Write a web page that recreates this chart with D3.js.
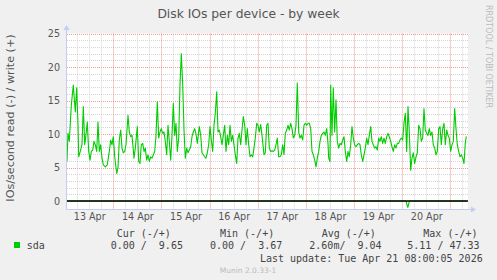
<!DOCTYPE html>
<html><head><meta charset="utf-8">
<script src="https://cdn.jsdelivr.net/npm/d3@7"></script>
<style>
html,body{margin:0;padding:0;background:#f0f0f0;}
svg{display:block;}
text{font-family:"DejaVu Sans",sans-serif;}
.mono{font-family:"DejaVu Sans Mono",monospace;white-space:pre;}
</style>
</head><body>
<svg id="c" width="497" height="280"></svg>
<script>
// ---- data ----
const title = "Disk IOs per device - by week";
const yAxisLabel = "IOs/second read (-) / write (+)";
const yTickValues = [0, 5, 10, 15, 20, 25];
const xTickLabels = ["13 Apr","14 Apr","15 Apr","16 Apr","17 Apr","18 Apr","19 Apr","20 Apr"];
const seriesName = "sda";
const legendHeaders = ["Cur (-/+)", "Min (-/+)", "Avg (-/+)", "Max (-/+)"];
const legendValues = ["0.00 /  9.65", "0.00 /  3.67", "2.60m/  9.04", "5.11 / 47.33"];
const lastUpdate = "Last update: Tue Apr 21 08:00:05 2026";
const footer = "Munin 2.0.33-1";
const watermark = "RRDTOOL / TOBI OETIKER";
// time: hours since 13 Apr 2026 00:00 (UTC)
const viewHours = [0.92, 200.82];
const writeHours = [0.9,1.42,2.07,3.07,4.06,5.06,5.76,6.41,6.75,7.55,8.40,9.05,9.75,10.39,11.04,11.74,12.39,13.04,13.73,14.38,15.03,15.73,16.38,17.02,17.72,18.37,19.02,20.01,21.01,22.01,22.71,23.36,24.00,24.70,25.70,26.35,26.99,27.69,28.34,28.99,29.69,30.33,31.33,31.98,32.68,33.33,34.32,34.97,35.97,36.67,37.31,37.96,38.66,39.31,39.95,40.65,41.30,41.95,42.65,43.30,43.94,44.64,45.29,45.94,46.63,47.28,47.93,48.63,49.28,49.92,50.62,51.27,51.92,52.62,53.27,53.91,54.61,55.26,55.91,56.61,57.25,57.90,58.60,59.25,59.89,60.59,61.24,61.89,62.59,63.24,63.88,64.58,65.23,65.88,66.88,67.57,68.22,68.87,69.57,70.21,70.86,71.56,72.21,72.86,73.55,74.20,74.85,75.55,76.20,76.84,77.54,78.19,78.84,79.54,80.18,80.83,81.53,82.18,82.83,83.52,84.17,84.82,85.52,86.17,86.81,87.51,88.16,88.81,89.51,90.15,90.80,91.50,92.15,92.80,93.49,94.14,94.79,95.49,96.14,96.78,97.48,98.13,98.78,99.12,99.77,100.47,101.12,101.77,102.46,103.11,103.76,104.46,105.11,105.75,106.45,107.10,107.75,108.45,109.10,109.74,110.44,111.09,111.74,112.44,113.09,113.73,114.43,115.08,115.73,116.43,117.08,117.72,118.42,119.07,119.72,120.42,121.06,121.71,122.41,123.06,123.71,124.40,125.05,125.70,126.40,127.05,127.69,128.39,129.04,129.69,130.38,131.03,131.38,132.02,132.37,133.02,133.67,134.37,135.02,135.66,136.36,137.01,137.66,138.36,139.01,139.65,140.35,141.00,141.65,142.34,142.99,143.64,144.34,144.99,145.64,146.33,146.98,147.63,148.33,148.97,149.62,150.32,150.97,151.62,152.31,152.96,153.61,154.31,154.96,155.60,156.30,156.95,157.60,158.29,158.94,159.59,160.29,160.94,161.58,162.28,162.93,163.58,164.27,164.92,165.57,166.27,166.92,167.57,168.26,168.91,169.56,170.26,170.91,171.55,172.25,172.90,173.55,174.25,174.90,175.54,176.24,176.89,177.54,178.23,178.88,179.53,180.23,180.88,181.52,182.22,182.87,183.52,184.22,184.86,185.51,186.21,186.86,187.51,188.21,188.85,189.50,190.20,190.85,191.49,192.19,192.84,193.49,194.19,194.83,195.48,196.18,196.83,197.48,198.17,198.82,199.47,199.97];
const writeValues = [5.9,10.1,8.9,14.3,17.3,13.3,16.9,11.3,6.6,7.4,8.4,14.1,8.4,9.9,11.8,7.4,6.1,7.4,7.6,8.9,8.4,7.4,11.8,7.4,8.4,6.4,5.4,5.1,5.4,7.4,9.1,8.4,9.6,6.6,4.1,5.0,9.1,10.6,7.9,7.2,7.4,8.4,12.8,10.3,9.6,9.8,6.4,7.9,11.1,5.9,5.6,8.4,8.6,7.4,7.9,6.1,6.9,5.9,6.6,6.4,6.9,7.4,9.8,14.8,9.4,10.3,10.8,10.1,10.3,8.9,6.9,11.3,8.9,6.1,9.8,14.6,9.8,11.6,7.4,9.4,17.3,22.0,17.3,10.6,6.4,7.9,7.2,7.6,8.1,9.6,10.3,10.8,10.0,8.6,11.1,9.8,7.2,6.9,6.6,6.4,7.2,8.4,11.1,9.1,7.4,11.3,13.1,16.3,10.3,10.6,9.6,8.4,9.8,11.3,7.4,9.8,8.4,11.3,8.9,9.8,8.4,6.9,5.6,9.4,10.1,8.4,10.6,12.6,11.3,8.4,10.8,8.4,6.6,6.9,6.6,7.9,9.4,11.6,11.3,10.3,11.4,9.8,7.9,6.9,7.2,11.3,11.6,7.9,7.4,7.5,7.4,7.6,8.4,9.4,6.6,6.6,6.9,8.4,6.9,10.1,10.6,11.3,10.6,11.6,10.8,9.4,9.8,11.3,17.6,10.3,9.4,9.8,9.1,11.3,11.6,11.3,11.6,11.6,10.8,7.4,6.9,6.1,5.1,6.4,7.4,8.9,9.8,10.1,10.3,9.8,10.8,8.6,6.4,5.9,17.3,9.8,16.9,10.3,15.1,8.9,7.9,8.6,8.4,9.1,9.6,7.4,5.9,7.4,6.6,8.4,11.1,9.4,8.4,8.1,8.4,8.6,8.4,6.9,5.9,6.9,7.9,9.4,8.4,9.8,11.1,8.9,8.4,7.9,8.1,7.6,9.4,8.9,9.6,8.6,9.4,8.6,9.6,10.1,9.6,8.9,8.1,7.4,8.4,7.9,8.6,8.6,9.1,9.4,9.1,11.6,13.1,7.4,14.1,10.3,4.6,6.4,7.2,5.6,6.6,7.2,11.3,10.8,8.9,9.4,13.8,10.6,10.1,9.8,10.8,9.8,10.3,8.4,7.9,6.9,7.4,10.8,11.1,8.4,10.8,11.6,8.4,10.6,9.8,9.4,7.4,8.4,8.9,13.8,10.8,8.4,7.4,6.6,6.9,6.4,5.6,8.6,9.65];
const readHours = [0.9, 169.9, 170.8, 171.6, 199.97];
const readValues = [0, 0, -1.0, 0, 0];

// ---- drawing ----
const base = Date.UTC(2026, 3, 13);
const t = h => new Date(base + h * 3600e3);
const svg = d3.select("#c");
const L = 67, R = 468, T = 33.5, B = 209;
const x = d3.scaleUtc().domain(viewHours.map(t)).range([L, R]);
const y = d3.scaleLinear().domain([-1.19, 25]).range([B, T]);

svg.append("rect").attr("width", 497).attr("height", 280).attr("fill", "#f0f0f0");
svg.append("rect").attr("x", L).attr("y", T).attr("width", R - L).attr("height", B - T).attr("fill", "#fff");

const px = v => Math.round(v) + 0.5;
const grid = svg.append("g");
// horizontal grid
d3.range(0, 26).forEach(v => {
  const major = v % 5 === 0;
  grid.append("line").attr("x1", L).attr("x2", R).attr("y1", px(y(v))).attr("y2", px(y(v)))
    .attr("stroke", major ? "rgba(235,70,70,0.55)" : "#d4d4d4").attr("stroke-dasharray", "1,1");
});
// vertical grid
d3.utcHour.every(6).range(x.domain()[0], x.domain()[1]).forEach(d => {
  const major = d.getUTCHours() === 0;
  grid.append("line").attr("y1", T).attr("y2", B).attr("x1", px(x(d))).attr("x2", px(x(d)))
    .attr("stroke", major ? "rgba(235,70,70,0.55)" : "#d4d4d4").attr("stroke-dasharray", "1,1");
});

// series
const line = d3.line().x(d => x(t(d[0]))).y(d => y(d[1]));
svg.append("path").datum(d3.zip(readHours, readValues)).attr("d", line)
  .attr("fill", "none").attr("stroke", "#00cc00").attr("stroke-width", 1.1);
svg.append("path").datum(d3.zip(writeHours, writeValues)).attr("d", line)
  .attr("fill", "none").attr("stroke", "#00cc00").attr("stroke-width", 1.1).attr("stroke-linejoin", "round");

// zero line
svg.append("line").attr("x1", L).attr("x2", R).attr("y1", y(0)).attr("y2", y(0))
  .attr("stroke", "#000").attr("stroke-width", 1.6);

// axes lines with arrows
const axc = "#c4ccf2";
svg.append("line").attr("x1", L - 0.5).attr("x2", L - 0.5).attr("y1", B + 0.5).attr("y2", 29).attr("stroke", axc);
svg.append("path").attr("d", `M${L-3.5},${30} L${L-0.5},${25} L${L+2.5},${30} Z`).attr("fill", axc);
svg.append("line").attr("x1", L - 0.5).attr("x2", 472).attr("y1", B + 0.5).attr("y2", B + 0.5).attr("stroke", axc);
svg.append("path").attr("d", `M${471},${B-2.5} L${476},${B+0.5} L${471},${B+3.5} Z`).attr("fill", axc);

// y axis ticks (labels only)
const yAx = svg.append("g").attr("transform", "translate(60,0)")
  .call(d3.axisLeft(y).tickValues(yTickValues).tickSize(0).tickPadding(0));
yAx.select(".domain").remove();
yAx.selectAll("text").attr("font-family", "DejaVu Sans").attr("font-size", 9.6).attr("fill", "#555");

// x axis labels at noon
const noonDates = xTickLabels.map((s, i) => t(12 + 24 * i));
const xAx = svg.append("g").attr("transform", `translate(0,${B})`)
  .call(d3.axisBottom(x).tickValues(noonDates).tickFormat((d, i) => xTickLabels[i]).tickSize(0).tickPadding(4.3));
xAx.select(".domain").remove();
xAx.selectAll("text").attr("font-family", "DejaVu Sans").attr("font-size", 9.6).attr("fill", "#555");

// title
svg.append("text").attr("x", 248.5).attr("y", 18.3).attr("text-anchor", "middle")
  .attr("font-size", 12.3).attr("fill", "#555").text(title);
// y label
svg.append("text").attr("transform", "translate(14,118) rotate(-90)").attr("text-anchor", "middle")
  .attr("font-size", 11.2).attr("fill", "#555").text(yAxisLabel);
// watermark
svg.append("text").attr("transform", "translate(486,5) rotate(90)").attr("text-anchor", "start")
  .attr("font-size", 8).attr("fill", "#bbb").text(watermark);

// legend
const lg = svg.append("g").attr("font-size", 10).attr("fill", "#444");
const headerX = [116.7, 220, 321.7, 423.3];
const valueX = [110.7, 210, 309.3, 407.3];
legendHeaders.forEach((h, i) => lg.append("text").attr("class", "mono").attr("x", headerX[i]).attr("y", 237).text(h));
svg.append("rect").attr("x", 14).attr("y", 242).attr("width", 6).attr("height", 6).attr("fill", "#00cc00");
lg.append("text").attr("class", "mono").attr("x", 26.7).attr("y", 249).text(seriesName);
legendValues.forEach((v, i) => lg.append("text").attr("class", "mono").attr("x", valueX[i]).attr("y", 249).text(v));
lg.append("text").attr("class", "mono").attr("x", 482.7).attr("y", 261.5).attr("text-anchor", "end").text(lastUpdate);
svg.append("text").attr("x", 248).attr("y", 272.5).attr("text-anchor", "middle")
  .attr("font-size", 7.5).attr("fill", "#bbb").text(footer);
</script>
</body></html>
